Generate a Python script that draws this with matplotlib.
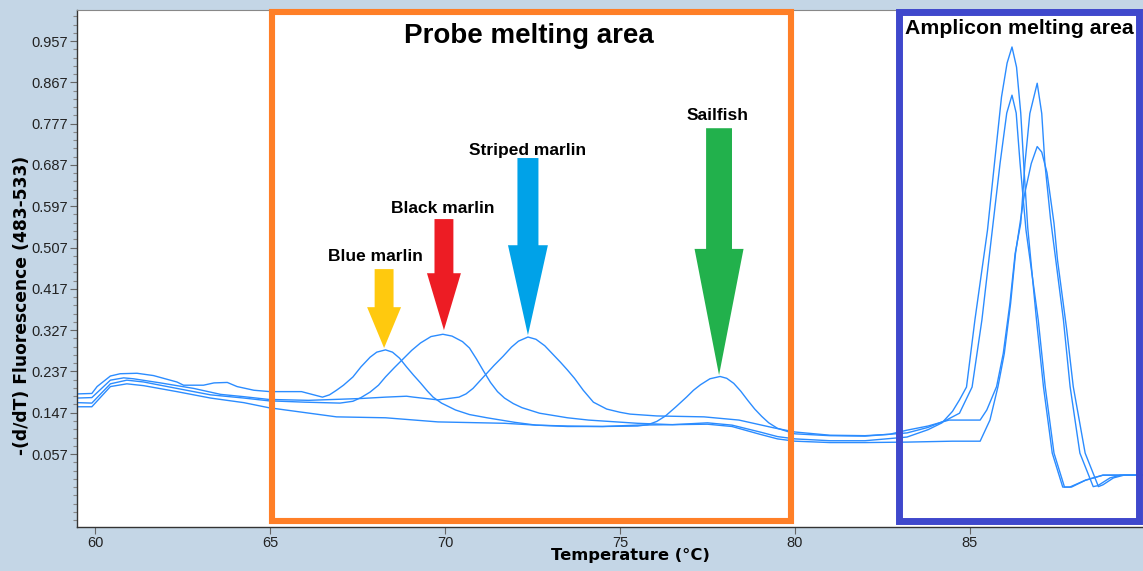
import numpy as np
import matplotlib
matplotlib.use("Agg")
import matplotlib.pyplot as plt
from matplotlib.patches import Rectangle, FancyArrow
from matplotlib.ticker import FixedLocator

plt.rcParams['font.family'] = ['Liberation Sans', 'DejaVu Sans']

# ---------------- data ----------------
bm_t = [59.49, 59.91, 60.06, 60.44, 60.72, 61.2, 61.67, 62.34, 62.53, 63.1, 63.4, 63.78,
        64.06, 64.54, 65.0, 65.9, 66.5, 66.7, 66.9, 67.1, 67.37, 67.6, 67.86, 68.05, 68.3,
        68.5, 68.7, 68.9, 69.1, 69.3, 69.5, 69.66, 69.9, 70.3, 70.7, 71.2, 72.0, 72.6, 73.5,
        74.5, 75.5, 76.5, 77.5, 78.2, 79.0, 79.5, 80.0,
        81.0, 82.0, 83.2, 83.8, 84.2, 84.5, 84.7, 84.9, 85.14, 85.5, 85.7, 85.9, 86.06, 86.2,
        86.33, 86.45, 86.55, 86.65, 86.9, 87.1, 87.35, 87.65, 87.85, 88.3, 88.8, 89.94]
bm_v = [0.188, 0.189, 0.204, 0.227, 0.232, 0.233, 0.228, 0.214, 0.207, 0.207, 0.212, 0.213,
        0.204, 0.196, 0.193, 0.193, 0.181, 0.186, 0.196, 0.207, 0.225, 0.247, 0.268, 0.279, 0.284,
        0.279, 0.266, 0.247, 0.229, 0.212, 0.194, 0.181, 0.168, 0.153, 0.143, 0.136, 0.126, 0.120, 0.117,
        0.117, 0.120, 0.121, 0.125, 0.120, 0.105, 0.095, 0.090,
        0.086, 0.086, 0.094, 0.110, 0.125, 0.150, 0.175, 0.203, 0.349, 0.545, 0.691, 0.835, 0.909, 0.944,
        0.900, 0.800, 0.670, 0.550, 0.349, 0.203, 0.059, -0.015, -0.015, 0.000, 0.011, 0.011]

bk_t = [59.49, 59.91, 60.44, 60.91, 61.39, 62.34, 63.3, 64.25, 64.96, 66.0, 67.0, 67.37,
        67.6, 67.86, 68.1, 68.3, 68.55, 68.8, 69.05, 69.3, 69.6, 69.94, 70.2, 70.5, 70.7,
        70.9, 71.1, 71.3, 71.5, 71.7, 71.95, 72.2, 72.7, 73.5,
        74.1, 75.5, 76.5, 77.5, 78.2, 79.0, 79.5, 80.0, 81.0, 82.0, 83.2, 84.5, 85.29, 85.57,
        85.8, 85.98, 86.16, 86.3, 86.4, 86.55, 86.75, 86.92, 87.05, 87.2, 87.4, 87.5, 87.76,
        87.95, 88.29, 88.67, 88.8, 89.1, 89.4, 89.94]
bk_v = [0.169, 0.168, 0.210, 0.218, 0.214, 0.200, 0.186, 0.179, 0.173, 0.170, 0.168, 0.172,
        0.180, 0.192, 0.207, 0.225, 0.245, 0.264, 0.283, 0.299, 0.313, 0.318, 0.314, 0.302, 0.288,
        0.264, 0.238, 0.213, 0.193, 0.179, 0.167, 0.158, 0.146, 0.136,
        0.131, 0.124, 0.121, 0.122, 0.117, 0.100, 0.090, 0.085, 0.082, 0.082, 0.083, 0.085, 0.085, 0.131,
        0.204, 0.276, 0.385, 0.494, 0.545, 0.620, 0.690, 0.727, 0.715, 0.670, 0.560, 0.480, 0.330,
        0.204, 0.059, -0.014, -0.010, 0.005, 0.011, 0.011]

st_t = [59.49, 59.91, 60.44, 60.82, 61.1, 61.87, 62.82, 63.59, 64.25, 64.96, 66.1, 67.6,
        68.3, 68.9, 69.1, 69.8, 70.4, 70.6, 70.8, 71.1, 71.4, 71.66, 71.9, 72.1, 72.37, 72.6,
        72.85, 73.05, 73.3, 73.5, 73.7, 73.95, 74.24, 74.62, 75.0, 75.29, 76.05, 77.4, 78.4,
        79.4, 80.0, 81.0, 82.0, 82.7,
        83.2, 83.8, 84.4, 85.29, 85.48, 85.76, 85.95, 86.14, 86.29, 86.45, 86.57, 86.71, 86.92,
        87.05, 87.14, 87.3, 87.67, 87.86, 88.14, 88.52, 88.65, 89.0, 89.3, 89.94]
st_v = [0.179, 0.180, 0.218, 0.223, 0.221, 0.212, 0.200, 0.187, 0.182, 0.176, 0.174, 0.178,
        0.181, 0.183, 0.181, 0.175, 0.181, 0.188, 0.200, 0.225, 0.250, 0.270, 0.290, 0.303, 0.312, 0.307,
        0.293, 0.277, 0.257, 0.240, 0.222, 0.196, 0.170, 0.155, 0.148, 0.144, 0.140, 0.138, 0.131,
        0.114, 0.105, 0.098, 0.097, 0.100,
        0.109, 0.118, 0.131, 0.131, 0.153, 0.204, 0.276, 0.385, 0.494, 0.560, 0.690, 0.799, 0.865,
        0.799, 0.690, 0.570, 0.349, 0.204, 0.059, -0.014, -0.012, 0.005, 0.011, 0.011]

sf_t = [59.49, 59.91, 60.44, 60.91, 61.39, 62.34, 63.3, 64.25, 64.96, 66.9, 68.3, 69.8,
        71.7, 72.6, 73.5, 74.5, 75.5, 75.8, 76.05, 76.3, 76.6, 76.9, 77.1, 77.3, 77.57, 77.86,
        78.05, 78.25, 78.45, 78.65, 78.85, 79.05, 79.25, 79.5,
        80.0, 81.0, 82.0, 83.2, 83.8, 84.3, 84.7, 85.06, 85.34, 85.66, 85.86, 86.05,
        86.2, 86.32, 86.43, 86.6, 86.95, 87.15, 87.4, 87.7, 87.9, 88.3, 88.8, 89.94]
sf_v = [0.160, 0.160, 0.204, 0.210, 0.206, 0.193, 0.179, 0.169, 0.158, 0.138, 0.136, 0.127,
        0.124, 0.120, 0.118, 0.117, 0.118, 0.121, 0.128, 0.140, 0.160, 0.181, 0.196, 0.208, 0.221, 0.226,
        0.222, 0.211, 0.194, 0.174, 0.155, 0.139, 0.125, 0.113,
        0.101, 0.097, 0.096, 0.103, 0.115, 0.130, 0.146, 0.203, 0.349, 0.560, 0.691, 0.800,
        0.839, 0.800, 0.691, 0.545, 0.349, 0.203, 0.059, -0.015, -0.015, 0.000, 0.011, 0.011]

curves_t = [bm_t, bk_t, st_t, sf_t]
curves_v = [bm_v, bk_v, st_v, sf_v]

y_ticks = [0.057, 0.147, 0.237, 0.327, 0.417, 0.507, 0.597, 0.687, 0.777, 0.867, 0.957]
x_ticks = [60, 65, 70, 75, 80, 85]

species = ["Blue marlin", "Black marlin", "Striped marlin", "Sailfish"]
arrow_colors = ["#FFC90E", "#ED1C24", "#00A2E8", "#22B14C"]

# ---------------- figure ----------------
W, H = 1143, 571
fig = plt.figure(figsize=(W / 100, H / 100), dpi=100)
fig.patch.set_facecolor("#c4d6e6")
ax = fig.add_axes([77 / W, 44 / H, (W - 77) / W, (527 - 10) / H])
ax.set_facecolor("white")

for t, v in zip(curves_t, curves_v):
    ax.plot(t, v, color="#2b8cff", lw=1.0, solid_joinstyle="round")

ax.set_xlim(59.486, 89.943)
ax.set_ylim(-0.102, 1.0246)

ax.set_yticks(y_ticks)
ax.set_yticklabels([f"{v:.3f}" for v in y_ticks])
ax.yaxis.set_minor_locator(FixedLocator(list(np.arange(-0.087, 1.02, 0.018))))
ax.set_xticks(x_ticks)
ax.tick_params(axis="both", which="major", length=5, width=0.8, color="#666666",
               labelsize=10.5, labelcolor="#222222", pad=1.5)
ax.tick_params(axis="y", which="minor", length=3, width=0.8, color="#888888")
for s in ["left", "bottom"]:
    ax.spines[s].set_color("#333333")
    ax.spines[s].set_linewidth(1.0)
ax.spines["top"].set_color("#888888")
ax.spines["right"].set_visible(False)

ax.set_xlabel("Temperature (°C)", fontsize=11.8, fontweight="bold",
              family=["DejaVu Sans"])
ax.set_ylabel("-(d/dT) Fluorescence (483-533)", fontsize=12.3, fontweight="bold",
              family=["DejaVu Sans"])
ax.xaxis.set_label_coords((630 - 77) / (W - 77), (527 - 548) / 517)
ax.yaxis.set_label_coords((31 - 77) / (W - 77), (527 - 305) / 517)

# boxes
ax.add_patch(Rectangle((65.07, -0.090), 79.90 - 65.07, 1.021 + 0.090, fill=False,
                       edgecolor="#FF7F27", lw=4.4, clip_on=False, zorder=5))
ax.add_patch(Rectangle((82.96, -0.090), 89.84 - 82.96, 1.021 + 0.090, fill=False,
                       edgecolor="#3F48CC", lw=5.0, clip_on=False, zorder=5))

ax.text(72.4, 0.968, "Probe melting area", ha="center", va="center",
        fontsize=20, fontweight="bold", zorder=6)
ax.text(86.42, 0.985, "Amplicon melting area", ha="center", va="center",
        fontsize=15.3, fontweight="bold", zorder=6)

# arrows (tip x, tip y, top y, shaft width, head width, head length)
arrow_tip_x = [68.26, 69.97, 72.37, 77.83]
arrow_tip_y = [0.288, 0.327, 0.316, 0.229]
arrow_top_y = [0.460, 0.569, 0.702, 0.767]
arrow_w = [0.54, 0.54, 0.60, 0.74]
arrow_hw = [0.97, 0.97, 1.14, 1.40]
arrow_hl = [0.089, 0.124, 0.196, 0.275]
label_y = [0.488, 0.591, 0.719, 0.794]
label_x = [68.0, 69.94, 72.37, 77.8]

for i, name in enumerate(species):
    ax.add_patch(FancyArrow(arrow_tip_x[i], arrow_top_y[i], 0,
                            arrow_tip_y[i] - arrow_top_y[i],
                            width=arrow_w[i], head_width=arrow_hw[i],
                            head_length=arrow_hl[i], length_includes_head=True,
                            color=arrow_colors[i], lw=0, zorder=4))
    ax.text(label_x[i], label_y[i], name, ha="center", va="center",
            fontsize=12.5, fontweight="bold", zorder=6)

fig.savefig("out.png", dpi=100, facecolor=fig.get_facecolor())
